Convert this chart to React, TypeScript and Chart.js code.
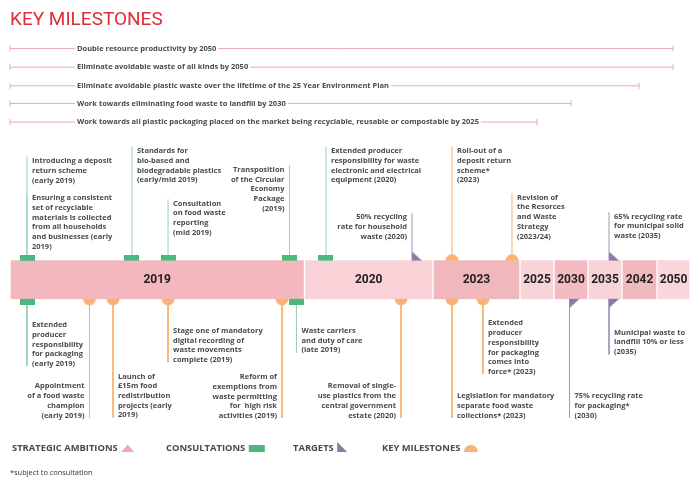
import React, { useEffect, useRef } from 'react';
import { Chart, registerables } from 'chart.js';

Chart.register(...registerables);

// ---------------- DATA ----------------
const TITLE = 'KEY MILESTONES';

const SEGMENT_LABELS = ['2019', '2020', '2023', '2025', '2030', '2035', '2042', '2050'];
const SEGMENT_START = [0, 43.3, 62.2, 75, 80, 85, 90, 95.15];
const SEGMENT_END = [43.3, 62.2, 75, 80, 85, 90, 95.15, 100];

const AMBITION_LABELS = [
  'Double resource productivity by 2050',
  'Eliminate avoidable waste of all kinds by 2050',
  'Eliminate avoidable plastic waste over the lifetime of the 25 Year Environment Plan',
  'Work towards eliminating food waste to landfill by 2030',
  'Work towards all plastic packaging placed on the market being recyclable, reusable or compostable by 2025',
];
const AMBITION_START = [0, 0, 0, 0, 0];
const AMBITION_END = [97.5, 97.5, 92.5, 82.5, 77.5];

const ABOVE_LABELS = [
  ['Introducing a deposit', 'return scheme', '(early 2019)'],
  ['Ensuring a consistent', 'set of recyclable', 'materials is collected', 'from all households', 'and businesses (early', '2019)'],
  ['Standards for', 'bio-based and', 'biodegradable plastics', '(early/mid 2019)'],
  ['Consultation', 'on food waste', 'reporting', '(mid 2019)'],
  ['Transposition', 'of the Circular', 'Economy', 'Package', '(2019)'],
  ['Extended producer', 'responsibility for waste', 'electronic and electrical', 'equipment (2020)'],
  ['50% recycling', 'rate for household', 'waste (2020)'],
  ['Roll-out of a', 'deposit return', 'scheme*', '(2023)'],
  ['Revision of', 'the Resorces', 'and Waste', 'Strategy', '(2023/24)'],
  ['65% recycling rate', 'for municipal solid', 'waste (2035)'],
];
const ABOVE_KIND = ['consultation', 'consultation', 'consultation', 'consultation', 'consultation', 'consultation', 'target', 'milestone', 'milestone', 'target'];
const ABOVE_POS = [2.5, 2.5, 17.94, 23.24, 41.1, 46.47, 59.12, 65.0, 73.82, 88.09];

const BELOW_LABELS = [
  ['Extended', 'producer', 'responsibility', 'for packaging', '(early 2019)'],
  ['Appointment', 'of a food waste', 'champion', '(early 2019)'],
  ['Launch of', '£15m food', 'redistribution', 'projects (early', '2019)'],
  ['Stage one of mandatory', 'digital recording of', 'waste movements', 'complete (2019)'],
  ['Reform of', 'exemptions from', 'waste permitting', 'for  high risk', 'activities (2019)'],
  ['Waste carriers', 'and duty of care', '(late 2019)'],
  ['Removal of single-', 'use plastics from the', 'central government', 'estate (2020)'],
  ['Legislation for mandatory', 'separate food waste', 'collections* (2023)'],
  ['Extended', 'producer', 'responsibility', 'for packaging', 'comes into', 'force* (2023)'],
  ['75% recycling rate', 'for packaging*', '(2030)'],
  ['Municipal waste to', 'landfill 10% or less', '(2035)'],
];
const BELOW_KIND = ['consultation', 'milestone', 'milestone', 'milestone', 'milestone', 'consultation', 'milestone', 'milestone', 'milestone', 'target', 'target'];
const BELOW_POS = [2.5, 11.69, 15.15, 23.24, 40.0, 42.13, 57.5, 65.0, 69.56, 82.28, 88.09];

const LEGEND_LABELS = ['STRATEGIC AMBITIONS', 'CONSULTATIONS', 'TARGETS', 'KEY MILESTONES'];
const LEGEND_KINDS = ['ambition', 'consultation', 'target', 'milestone'];
const FOOTNOTE = '*subject to consultation';

// ---------------- STYLE / LAYOUT ----------------
const SEGMENT_COLORS = ['#f2b8be', '#f8d2d6', '#f0b7bd', '#f8d3d7', '#f2bcc2', '#f8d3d7', '#f0b8bf', '#f8d6d9'];
const KIND_COLORS: Record<string, string> = { consultation: '#4cb87c', milestone: '#f8b274', target: '#8c7aa5', ambition: '#f0a9b3' };
const STEM_COLORS: Record<string, string> = { consultation: '#96d2b5', milestone: '#f5b16c', target: '#a298b3' };
const AMBITION_COLOR = '#e9a9b3';
const TEXT_COLOR = '#4a4a4a';
const TITLE_FONT = 'Roboto';
const FONT = '"Open Sans"';

const LAYOUT = {
  bandTop: 261,
  bandBottom: 300,
  bandCenter: 280.5,
  bandThickness: 39,
  ambitionY: [44.5, 63.5, 82.5, 100.5, 119.5],
  ambitionTextPos: 9.85,
  lineHeight: 9.7,
  aboveFirstLine: [159.3, 197.3, 149.3, 202.7, 168.3, 149.3, 216.7, 149.3, 196.7, 216],
  aboveAlign: ['left', 'left', 'left', 'left', 'right', 'left', 'right', 'left', 'left', 'left'],
  belowFirstLine: [326.7, 389.3, 379.3, 332.7, 380, 332.7, 389.3, 399.3, 325, 399.3, 334.3],
  belowAlign: ['left', 'right', 'left', 'left', 'right', 'left', 'right', 'left', 'left', 'left', 'left'],
  textGap: 5,
  legendX: [12, 166, 293, 382],
  legendY: 448,
  footY: 473,
};

function makeMarker(kind: string, side: 'above' | 'below'): HTMLCanvasElement {
  const c = document.createElement('canvas');
  let w = 15, h = 6;
  if (kind === 'milestone') { w = 14; h = 7; }
  if (kind === 'target') { w = 22; h = 9; }
  c.width = w;
  c.height = h * 2;
  const g = c.getContext('2d')!;
  g.fillStyle = KIND_COLORS[kind];
  const top = side === 'above';
  if (kind === 'consultation') {
    g.fillRect(0, top ? 0 : h, w, h);
  } else if (kind === 'milestone') {
    g.beginPath();
    g.arc(w / 2, h, 6.5, top ? Math.PI : 0, top ? 2 * Math.PI : Math.PI);
    g.closePath();
    g.fill();
  } else {
    g.beginPath();
    if (top) {
      g.moveTo(11, 0); g.lineTo(11, h); g.lineTo(21, h);
    } else {
      g.moveTo(11, h); g.lineTo(21, h); g.lineTo(11, 2 * h);
    }
    g.closePath();
    g.fill();
  }
  return c;
}

function drawLines(ctx: CanvasRenderingContext2D, lines: string[], x: number, y0: number, align: CanvasTextAlign, lh: number) {
  ctx.textAlign = align;
  ctx.textBaseline = 'middle';
  lines.forEach((t, i) => ctx.fillText(t, x, y0 + i * lh));
}

const textPlugin = {
  id: 'infographicText',
  afterDatasetsDraw(chart: any) {
    const { ctx } = chart;
    const xs = chart.scales.x;
    const ys = chart.scales.y;
    ctx.save();

    // title
    ctx.fillStyle = '#dc2f3a';
    ctx.font = `400 19px ${TITLE_FONT}`;
    ctx.textAlign = 'left';
    ctx.textBaseline = 'alphabetic';
    ctx.fillText(TITLE, xs.getPixelForValue(0), ys.getPixelForValue(20));

    // ambition labels
    ctx.font = `bold 7.5px ${FONT}`;
    AMBITION_LABELS.forEach((t, i) => {
      const x = xs.getPixelForValue(LAYOUT.ambitionTextPos);
      const y = ys.getPixelForValue(LAYOUT.ambitionY[i]);
      const w = ctx.measureText(t).width;
      ctx.fillStyle = '#ffffff';
      ctx.fillRect(x - 2, y - 5, w + 4, 10);
      ctx.fillStyle = TEXT_COLOR;
      ctx.textAlign = 'left';
      ctx.textBaseline = 'middle';
      ctx.fillText(t, x, y);
    });

    // segment labels
    ctx.font = `bold 12px ${TITLE_FONT}`;
    ctx.fillStyle = '#222222';
    SEGMENT_LABELS.forEach((t, i) => {
      const cx = xs.getPixelForValue((SEGMENT_START[i] + SEGMENT_END[i]) / 2);
      ctx.textAlign = 'center';
      ctx.textBaseline = 'middle';
      ctx.fillText(t, cx, ys.getPixelForValue(LAYOUT.bandCenter) + 0.5);
    });

    // event texts
    ctx.font = `bold 7.5px ${FONT}`;
    ctx.fillStyle = TEXT_COLOR;
    ABOVE_LABELS.forEach((lines, i) => {
      const align = LAYOUT.aboveAlign[i] as CanvasTextAlign;
      const px = xs.getPixelForValue(ABOVE_POS[i]) + (align === 'left' ? LAYOUT.textGap : -LAYOUT.textGap);
      drawLines(ctx, lines, px, ys.getPixelForValue(LAYOUT.aboveFirstLine[i]), align, LAYOUT.lineHeight);
    });
    BELOW_LABELS.forEach((lines, i) => {
      const align = LAYOUT.belowAlign[i] as CanvasTextAlign;
      const px = xs.getPixelForValue(BELOW_POS[i]) + (align === 'left' ? LAYOUT.textGap : -LAYOUT.textGap);
      drawLines(ctx, lines, px, ys.getPixelForValue(LAYOUT.belowFirstLine[i]), align, LAYOUT.lineHeight);
    });

    // legend
    ctx.font = `bold 9.4px ${FONT}`;
    LEGEND_LABELS.forEach((t, i) => {
      const x = LAYOUT.legendX[i];
      const y = LAYOUT.legendY;
      ctx.fillStyle = TEXT_COLOR;
      ctx.textAlign = 'left';
      ctx.textBaseline = 'middle';
      ctx.fillText(t, x, y);
      const ix = x + ctx.measureText(t).width + 3.5;
      const kind = LEGEND_KINDS[i];
      ctx.fillStyle = KIND_COLORS[kind];
      ctx.beginPath();
      if (kind === 'ambition') {
        ctx.moveTo(ix, y + 4); ctx.lineTo(ix + 6.5, y - 3.5); ctx.lineTo(ix + 13, y + 4);
        ctx.closePath(); ctx.fill();
      } else if (kind === 'consultation') {
        ctx.fillRect(ix, y - 3, 16, 7);
      } else if (kind === 'target') {
        ctx.moveTo(ix, y - 6); ctx.lineTo(ix, y + 4); ctx.lineTo(ix + 10, y + 4);
        ctx.closePath(); ctx.fill();
      } else {
        ctx.arc(ix + 7, y + 4, 7, Math.PI, 2 * Math.PI);
        ctx.closePath(); ctx.fill();
      }
    });

    // footnote
    ctx.font = `7.4px ${FONT}`;
    ctx.fillStyle = '#333333';
    ctx.textAlign = 'left';
    ctx.textBaseline = 'middle';
    ctx.fillText(FOOTNOTE, 10, LAYOUT.footY);

    ctx.restore();
  },
};

export default function App() {
  const ref = useRef<HTMLCanvasElement>(null);

  useEffect(() => {
    document.body.style.margin = '0';
    const canvas = ref.current!;

    const datasets: any[] = [];
    const L = LAYOUT;

    // markers (drawn on top)
    const kinds = ['consultation', 'milestone', 'target'];
    kinds.forEach((kind) => {
      const above = ABOVE_POS.map((p, i) => (ABOVE_KIND[i] === kind ? { x: p, y: L.bandTop } : null)).filter(Boolean);
      const below = BELOW_POS.map((p, i) => (BELOW_KIND[i] === kind ? { x: p, y: L.bandBottom } : null)).filter(Boolean);
      datasets.push({ type: 'scatter', data: above, pointStyle: makeMarker(kind, 'above'), pointRadius: 1, pointHoverRadius: 1, order: 0, clip: false });
      datasets.push({ type: 'scatter', data: below, pointStyle: makeMarker(kind, 'below'), pointRadius: 1, pointHoverRadius: 1, order: 0, clip: false });
    });

    // stems
    ABOVE_POS.forEach((p, i) => {
      datasets.push({
        type: 'line',
        data: [{ x: p, y: L.bandTop }, { x: p, y: L.aboveFirstLine[i] - 4.5 }],
        borderColor: STEM_COLORS[ABOVE_KIND[i]], borderWidth: 1, pointRadius: 0, order: 1, clip: false,
      });
    });
    BELOW_POS.forEach((p, i) => {
      const last = L.belowFirstLine[i] + (BELOW_LABELS[i].length - 1) * L.lineHeight;
      datasets.push({
        type: 'line',
        data: [{ x: p, y: L.bandBottom }, { x: p, y: last + 3 }],
        borderColor: STEM_COLORS[BELOW_KIND[i]], borderWidth: 1, pointRadius: 0, order: 1, clip: false,
      });
    });

    // timeline band
    datasets.push({
      type: 'bar',
      indexAxis: 'y',
      data: SEGMENT_LABELS.map((_, i) => ({ x: [SEGMENT_START[i], SEGMENT_END[i]], y: L.bandCenter })),
      backgroundColor: SEGMENT_COLORS,
      borderColor: '#ffffff',
      borderWidth: { left: 1, right: 1, top: 0, bottom: 0 },
      borderSkipped: false,
      barThickness: L.bandThickness,
      order: 2,
    });

    // ambitions
    AMBITION_LABELS.forEach((_, i) => {
      datasets.push({
        type: 'line',
        data: [{ x: AMBITION_START[i], y: L.ambitionY[i] }, { x: AMBITION_END[i], y: L.ambitionY[i] }],
        borderColor: AMBITION_COLOR,
        borderWidth: 1,
        pointStyle: 'line',
        pointRotation: 90,
        pointRadius: 3,
        pointBorderColor: AMBITION_COLOR,
        pointBorderWidth: 1,
        order: 3,
        clip: false,
      });
    });

    const chart = new Chart(canvas, {
      type: 'scatter',
      data: { datasets },
      options: {
        animation: false,
        responsive: false,
        devicePixelRatio: 1,
        layout: { padding: { left: 10, right: 9, top: 0, bottom: 0 } },
        events: [],
        scales: {
          x: { type: 'linear', min: 0, max: 100, display: false, offset: false, grid: { offset: false } },
          y: { type: 'linear', min: 0, max: 485, reverse: true, display: false, offset: false, grid: { offset: false } },
        },
        plugins: { legend: { display: false }, tooltip: { enabled: false } },
      } as any,
      plugins: [textPlugin],
    } as any);

    return () => chart.destroy();
  }, []);

  return (
    <div style={{ width: 699, height: 485, background: '#ffffff' }}>
      <canvas ref={ref} width={699} height={485} style={{ display: 'block' }} />
    </div>
  );
}
